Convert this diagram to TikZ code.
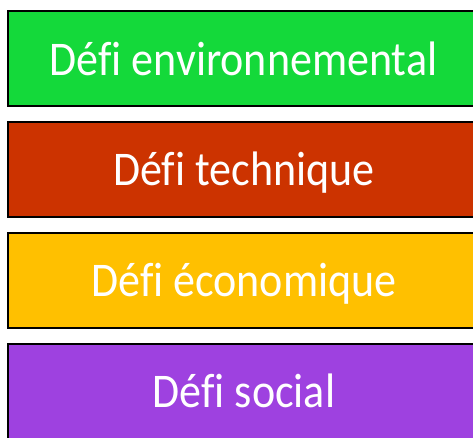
\documentclass[tikz,border=0pt]{standalone}
\usepackage{fontspec}
\setmainfont[Ligatures=NoCommon]{Carlito}
\definecolor{cgreen}{HTML}{14D93A}
\definecolor{cred}{HTML}{CC3300}
\definecolor{cyellow}{HTML}{FFC000}
\definecolor{cpurple}{HTML}{9E41E0}
\newcommand{\deftxt}[1]{\scalebox{1}[1.1]{#1}}
\begin{document}
\begin{tikzpicture}[x=1pt,y=-1pt,
  defi/.style={draw=black,line width=2pt,minimum width=470pt,minimum height=95pt,anchor=west,inner sep=0pt},
  lbl/.style={text=white,anchor=base,inner sep=0pt,font=\fontsize{44}{48}\selectfont}]
\useasboundingbox (0,0) rectangle (473,437);
\clip (0,0) rectangle (473,437);
\node[defi,fill=cgreen] (a) at (7,58.5) {};
\node[defi,fill=cred] (b) at (7,169) {};
\node[defi,fill=cyellow] (c) at (7,280.5) {};
\node[defi,fill=cpurple] (d) at (7,391) {};
\node[lbl] (ta) at (243.5,75) {\deftxt{Défi environnemental}};
\node[lbl] (tb) at (244,185.5) {\deftxt{Défi technique}};
\node[lbl] (tc) at (244,296) {\deftxt{Défi économique}};
\node[lbl] (td) at (244,407) {\deftxt{Défi social}};
\end{tikzpicture}
\end{document}
